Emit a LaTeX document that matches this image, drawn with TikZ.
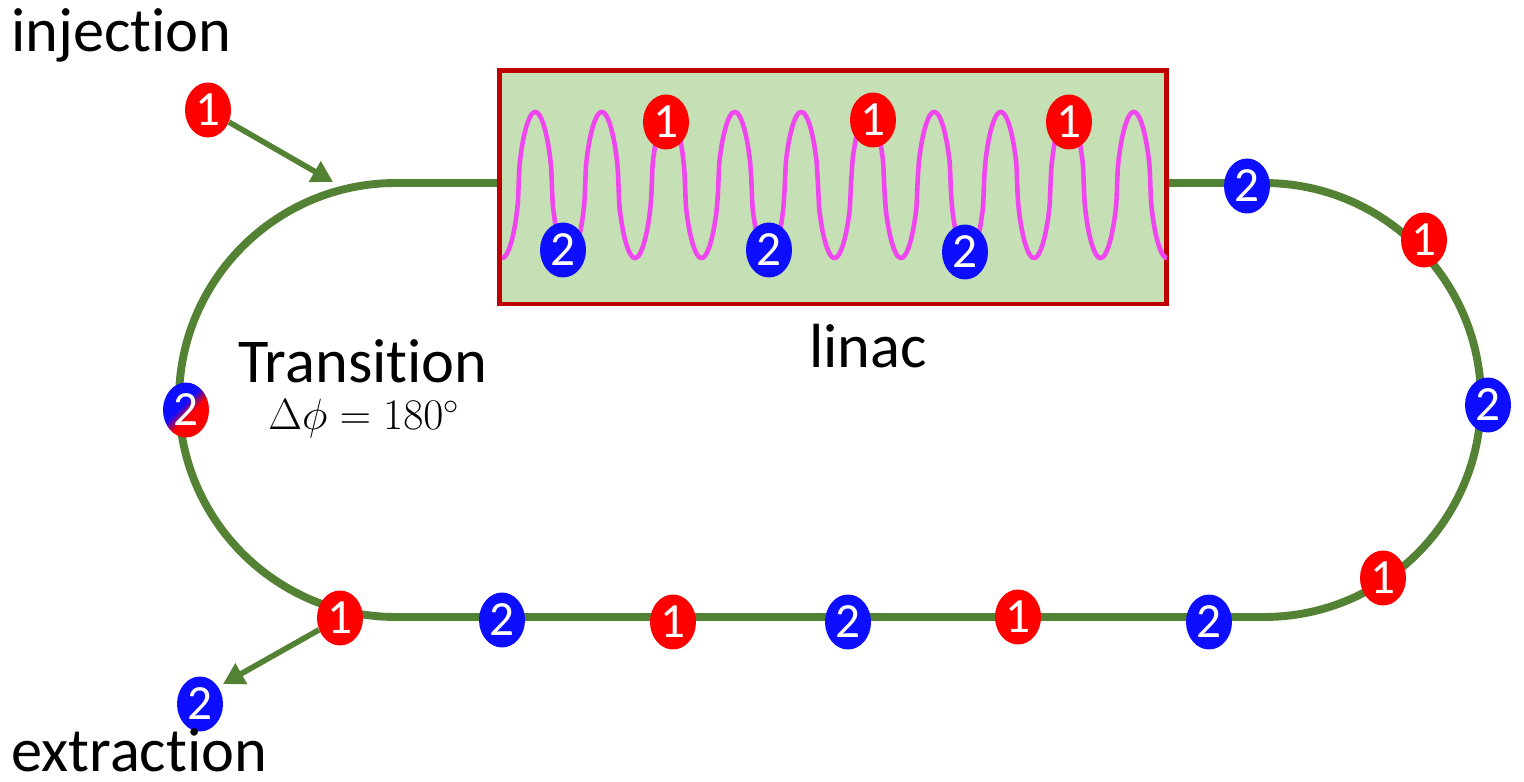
\documentclass[tikz,border=0pt]{standalone}
\usepackage[no-math]{fontspec}
\setmainfont[Ligatures=NoCommon]{Carlito}
\usepackage{xcolor}
\usetikzlibrary{arrows.meta,shapes.geometric}
\definecolor{trackgreen}{HTML}{548235}
\definecolor{linacfill}{HTML}{C5E0B4}
\definecolor{linacedge}{HTML}{C00000}
\definecolor{rfpink}{HTML}{F046F0}
\definecolor{bunchred}{HTML}{FF0000}
\definecolor{bunchblue}{HTML}{0E0EFF}
\pgfdeclareverticalshading{bunchsplit}{100bp}{color(0bp)=(bunchred); color(44bp)=(bunchred);
  color(56bp)=(bunchblue); color(100bp)=(bunchblue)}
\tikzset{
  bunch/.style={ellipse,minimum width=0.92cm,minimum height=1.1cm,inner sep=0pt,
                text=white,font=\fontsize{28}{28}\selectfont},
  bunchone/.style={bunch,fill=bunchred},
  bunchtwo/.style={bunch,fill=bunchblue},
  bunchmix/.style={bunch,shading=bunchsplit,shading angle=45},
  track/.style={draw=trackgreen,line width=4.5pt},
  feedarr/.style={-{Triangle[length=12pt,width=13pt]},draw=trackgreen,line width=3.2pt},
  linacbox/.style={draw=linacedge,fill=linacfill,line width=2.8pt,
                   minimum width=13.35cm,minimum height=4.67cm,inner sep=0pt},
  rfwave/.style={draw=rfpink,line width=2.6pt},
  bigtext/.style={font=\fontsize{35.5}{40}\selectfont,inner sep=0pt}
}
\begin{document}
\begin{tikzpicture}[x=0.02cm,y=0.02cm,
    declare function={rfc(\t)=cos((\t-502)/66.5*360);
      rfshape(\t)=(rfc(\t)>=0?1:-1)*(abs(rfc(\t))+0.00001)^0.55;}]
  \useasboundingbox (0,0) rectangle (1524,781);
  \draw[track] (396,598) -- (1264,598) arc[start angle=90,end angle=-90,radius=217]
    -- (396,164) arc[start angle=270,end angle=90,radius=217] -- cycle;
  \node[linacbox] (linac) at (833.25,593.75) {};
  \draw[rfwave] plot[domain=502:1167,samples=500,smooth] (\x,{596-73*rfshape(\x)});
  % bunches in the linac
  \node[bunchone] (lin1a) at (666,659) {1};
  \node[bunchone] (lin1b) at (873,661) {1};
  \node[bunchone] (lin1c) at (1069,659) {1};
  \node[bunchtwo] (lin2a) at (563,531) {2};
  \node[bunchtwo] (lin2b) at (769,531) {2};
  \node[bunchtwo] (lin2c) at (965,529) {2};
  % bunches on the ring
  \node[bunchtwo] (ring2a) at (1247,595) {2};
  \node[bunchone] (ring1a) at (1424,541) {1};
  \node[bunchtwo] (ring2b) at (1488,376) {2};
  \node[bunchone] (ring1b) at (1383,203) {1};
  \node[bunchone] (bot1a) at (340,163) {1};
  \node[bunchtwo] (bot2a) at (502,161) {2};
  \node[bunchone] (bot1b) at (673,159) {1};
  \node[bunchtwo] (bot2b) at (848,159) {2};
  \node[bunchone] (bot1c) at (1018,164) {1};
  \node[bunchtwo] (bot2c) at (1209,159) {2};
  \node[bunchmix] (trans) at (186,371) {2};
  \node[bunchone] (inj) at (208,671) {1};
  \node[bunchtwo] (ext) at (200,77) {2};
  \coordinate (injpt) at (333,599);
  \coordinate (extpt) at (223,97);
  \draw[feedarr] (inj) -- (injpt);
  \draw[feedarr] (bot1a) -- (extpt);
  % labels
  \node[bigtext,anchor=base west] (injlabel) at (11,729) {injection};
  \node[bigtext,anchor=base west] (extlabel) at (11,10) {extraction};
  \node[bigtext,anchor=base west] (translabel) at (238,398) {Transition};
  \node[anchor=base,inner sep=0pt,font=\fontsize{26}{30}\selectfont] (phaselabel) at (364,351) {$\Delta\phi = 180^\circ$};
  \node[bigtext,anchor=base] (linaclabel) at (868,413) {linac};
\end{tikzpicture}
\end{document}
